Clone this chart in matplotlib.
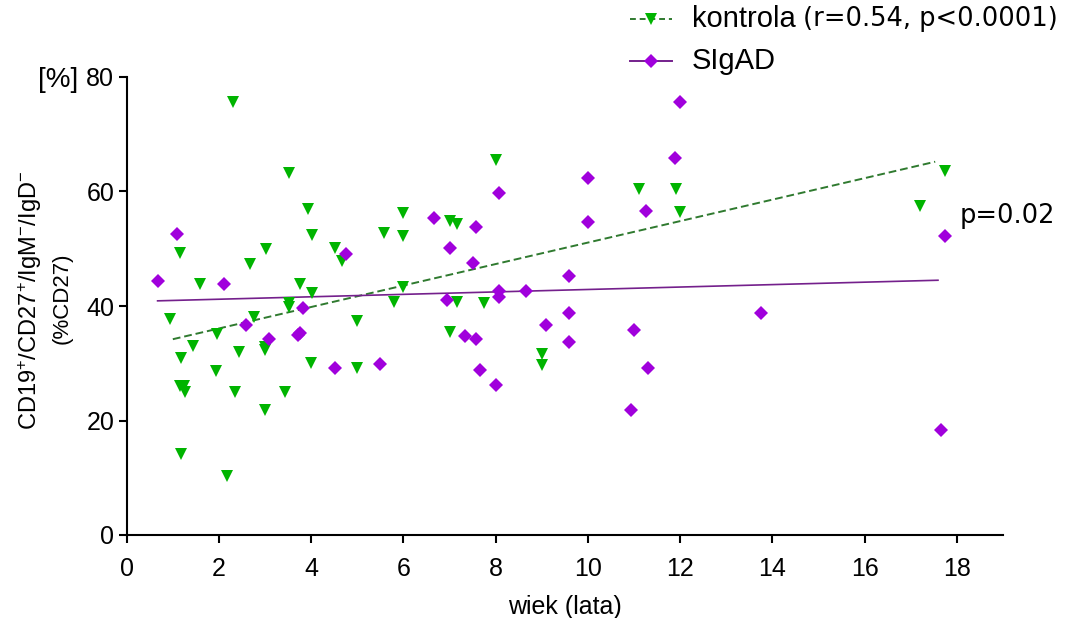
import matplotlib
matplotlib.use("Agg")
import matplotlib.pyplot as plt
from matplotlib.lines import Line2D
from matplotlib import font_manager as fm

# ---------------- data ----------------
kontrola_age = [2.31, 3.51, 3.93, 6.00, 4.01, 5.58, 6.00, 3.02, 1.16, 4.52,
                4.66, 2.67, 1.59, 3.76, 4.01, 6.00, 3.51, 3.51, 5.80, 0.94,
                2.75, 5.00, 1.95, 1.43, 1.17, 2.43, 3.00, 3.00, 1.93, 4.00,
                5.00, 1.15, 1.25, 1.27, 2.34, 3.43, 3.00, 1.17, 2.17, 8.00,
                11.10, 11.92, 12.00, 7.00, 7.17, 7.17, 7.75, 7.00, 9.00, 9.00,
                17.75, 17.21]
kontrola_val = [75.7, 63.2, 56.9, 56.3, 52.4, 52.8, 52.2, 49.9, 49.3, 50.2,
                47.8, 47.4, 43.9, 43.8, 42.2, 43.4, 40.5, 39.9, 40.7, 37.8,
                38.1, 37.4, 35.1, 33.0, 30.9, 32.0, 32.8, 32.3, 28.7, 30.0,
                29.2, 26.0, 26.0, 25.0, 25.0, 25.0, 21.8, 14.1, 10.3, 65.5,
                60.5, 60.5, 56.4, 54.8, 54.4, 40.7, 40.6, 35.5, 31.7, 29.7,
                63.5, 57.4]

sigad_age = [1.10, 4.76, 0.67, 2.10, 3.83, 2.59, 3.09, 3.71, 3.76, 4.52,
             5.49, 11.89, 10.01, 8.08, 11.26, 6.67, 7.58, 10.01, 7.00, 7.51,
             9.58, 8.08, 8.08, 8.66, 6.94, 9.58, 7.34, 7.58, 9.09, 9.59,
             11.01, 7.66, 11.30, 8.00, 12.00, 13.75, 10.93, 17.75, 17.66]
sigad_val = [52.6, 49.1, 44.4, 43.8, 39.7, 36.7, 34.3, 34.9, 35.3, 29.2,
             29.8, 65.8, 62.3, 59.8, 56.6, 55.3, 53.8, 54.7, 50.1, 47.5,
             45.2, 42.6, 41.5, 42.7, 41.1, 38.8, 34.8, 34.2, 36.6, 33.7,
             35.8, 28.8, 29.1, 26.2, 75.6, 38.8, 21.8, 52.2, 18.3]

# regression lines (end points)
kontrola_fit_x = [1.00, 17.53]
kontrola_fit_y = [34.2, 65.2]
sigad_fit_x = [0.67, 17.59]
sigad_fit_y = [40.9, 44.5]

x_ticks = [0, 2, 4, 6, 8, 10, 12, 14, 16, 18]
y_ticks = [0, 20, 40, 60, 80]

# ---------------- fonts ----------------
names = {f.name for f in fm.fontManager.ttflist}
narrow = "Liberation Sans Narrow" if "Liberation Sans Narrow" in names else "Liberation Sans"
plt.rcParams["font.family"] = [narrow, "DejaVu Sans"]
plt.rcParams["mathtext.fontset"] = "custom"
plt.rcParams["mathtext.rm"] = narrow
plt.rcParams["mathtext.default"] = "regular"

GREEN = "#00B400"
GREEN_LINE = "#2F7A2F"
PURPLE = "#A000DC"
PURPLE_LINE = "#74208C"

W, H = 1071, 618
fig = plt.figure(figsize=(W / 100, H / 100), dpi=100)
x0, x1, y0, y1 = 126.7, 1003, 535, 77
ax = fig.add_axes([x0 / W, (H - y0) / H, (x1 - x0) / W, (y0 - y1) / H])

ax.plot(kontrola_fit_x, kontrola_fit_y, color=GREEN_LINE, lw=1.4,
        linestyle=(0, (4, 2)), zorder=2)
ax.plot(sigad_fit_x, sigad_fit_y, color=PURPLE_LINE, lw=1.2, zorder=2)
ax.plot(kontrola_age, kontrola_val, linestyle="none", marker="v",
        markersize=9.3, color=GREEN, markeredgewidth=0, zorder=3)
ax.plot(sigad_age, sigad_val, linestyle="none", marker="D",
        markersize=6.8, color=PURPLE, markeredgewidth=0, zorder=3)

ax.set_xlim(0, 19)
ax.set_ylim(0, 80)
ax.set_xticks(x_ticks)
ax.set_yticks(y_ticks)
ax.set_xticklabels([str(v) for v in x_ticks])
ax.set_yticklabels([str(v) for v in y_ticks])
for s in ["top", "right"]:
    ax.spines[s].set_visible(False)
for s in ["left", "bottom"]:
    ax.spines[s].set_linewidth(1.5)
    ax.spines[s].set_color("black")
ax.tick_params(direction="out", length=6, width=1.5, labelsize=18, pad=3,
               colors="black")
ax.tick_params(axis="x", pad=10)

ax.set_xlabel("wiek (lata)", fontsize=18, labelpad=10)

# y label (two lines)
fig.text(30 / W, 1 - 300 / H,
         r"CD19$^{+}$/CD27$^{+}$/IgM$^{-}$/IgD$^{-}$",
         rotation=90, ha="center", va="center", fontsize=17)
fig.text(62 / W, 1 - 298 / H, "(%CD27)", rotation=90,
         ha="center", va="center", fontsize=16)
fig.text(58 / W, 1 - 80 / H, "[%]", ha="center", va="center", fontsize=20)

# p annotation
fig.text(960 / W, 1 - 216 / H, "p=0.02", ha="left", va="center",
         fontsize=18.5, family="DejaVu Sans")

# legend
r1, r2 = 1 - 19 / H, 1 - 61 / H
fig.add_artist(Line2D([630 / W, 672 / W], [r1, r1], transform=fig.transFigure,
                      color=GREEN_LINE, lw=1.4, linestyle=(0, (3, 2))))
fig.add_artist(Line2D([651 / W], [r1], transform=fig.transFigure,
                      marker="v", markersize=9.3, color=GREEN,
                      markeredgewidth=0, linestyle="none"))
fig.add_artist(Line2D([630 / W, 672 / W], [r2, r2], transform=fig.transFigure,
                      color=PURPLE_LINE, lw=1.4))
fig.add_artist(Line2D([651 / W], [r2], transform=fig.transFigure,
                      marker="D", markersize=6.8, color=PURPLE,
                      markeredgewidth=0, linestyle="none"))
fig.text(692 / W, r1, "kontrola", ha="left", va="center", fontsize=21)
fig.text(803 / W, r1, "(r=0.54, p<0.0001)", ha="left", va="center",
         fontsize=18.5, family="DejaVu Sans")
fig.text(692 / W, r2, "SIgAD", ha="left", va="center", fontsize=21)

fig.savefig("out.png", dpi=100, facecolor="white")
